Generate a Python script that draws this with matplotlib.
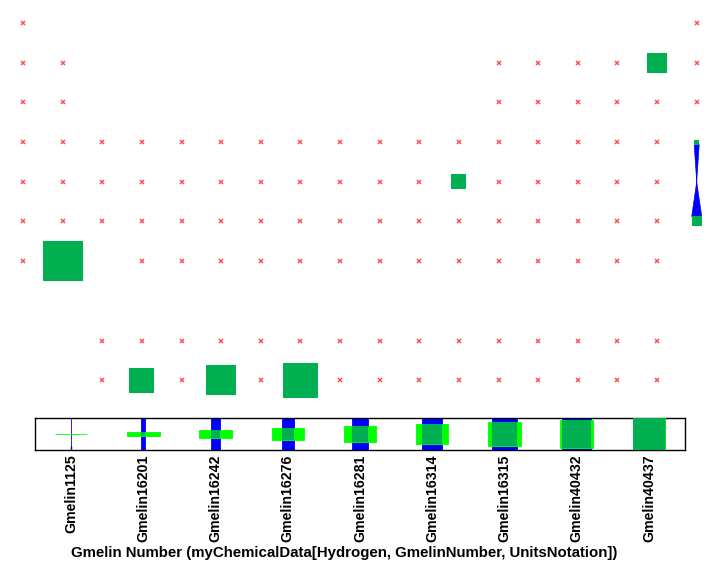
import numpy as np
import matplotlib
matplotlib.use("Agg")
import matplotlib.pyplot as plt
from matplotlib.patches import Rectangle, Polygon

plt.rcParams['font.family'] = ['Liberation Sans', 'DejaVu Sans']

# ---------------------------------------------------------------
# data
# ---------------------------------------------------------------
# upper grid: columns with a red cross, one list per row (row 7 is empty)
cross_rows = [
    [0, 17],
    [0, 1, 12, 13, 14, 15, 17],
    [0, 1, 12, 13, 14, 15, 16, 17],
    list(range(0, 17)),
    list(range(0, 11)) + list(range(12, 17)),
    list(range(0, 17)),
    [0] + list(range(3, 17)),
    [],
    list(range(2, 17)),
    [2, 4, 6] + list(range(8, 17)),
]
# green squares: column, row, value
sq_col = [17, 17, 11, 16, 3, 5, 7, 1]
sq_row = [3, 5, 4, 1, 9, 9, 9, 6]
sq_val = [1, 2, 3, 4, 5, 6, 7, 8]

# lower panel
gmelin = ["Gmelin1125", "Gmelin16201", "Gmelin16242", "Gmelin16276", "Gmelin16281",
          "Gmelin16314", "Gmelin16315", "Gmelin40432", "Gmelin40437"]
level = [0, 1, 2, 3, 4, 5, 6, 7, 8]

# ---------------------------------------------------------------
# figure
# ---------------------------------------------------------------
W, H = 720, 568
fig = plt.figure(figsize=(W / 100, H / 100), dpi=100)

red = '#ff4d5a'
dgreen = '#00b050'
lime = '#00ff00'
blue = '#0000ff'

# upper grid, no frame
colw, rowh = 39.63, 39.7
top = fig.add_axes([0, 0, 1, 1])
x0 = -23 / colw
y0 = -23 / rowh
top.set_xlim(x0, x0 + W / colw)
top.set_ylim(y0 + H / rowh, y0)
top.axis('off')

for r, cols in enumerate(cross_rows):
    if cols:
        top.plot(cols, [r] * len(cols), 'x', color=red, ms=3.3, mew=1.1, zorder=2)

px = 5.0  # pixels per unit of value
sx = {}
for c, r, v in zip(sq_col, sq_row, sq_val):
    w = v * px / colw
    h = v * px / rowh
    sx[v] = (c, r, w, h)
    top.add_patch(Rectangle((c - w / 2, r - h / 2), w, h, facecolor=dgreen,
                            edgecolor='none', zorder=4))

# blue bow tie joining the two smallest squares
c1, r1, w1, h1 = sx[1]
c2, r2, w2, h2 = sx[2]
mid = ((c1 + c2) / 2, (r1 + r2) / 2)
bow = Polygon([(c1 - w1 / 2, r1 + h1 / 2), (c1 + w1 / 2, r1 + h1 / 2), mid,
               (c2 + w2 / 2, r2 - h2 / 2), (c2 - w2 / 2, r2 - h2 / 2), mid],
              closed=True, facecolor=blue, edgecolor=blue, lw=0.5, zorder=3)
top.add_patch(bow)

# lower panel
ax = fig.add_axes([35 / W, (H - 450) / H, 650 / W, 32 / H])
x = np.arange(len(gmelin))
v = np.array(level) / 8.0
full = 0.45
bw = v * full
ax.bar(x, 1.0, width=bw, bottom=0, color=blue, edgecolor=blue, lw=0.6, zorder=2)
ax.bar(x, v, width=full, bottom=0.5 - v / 2, color=lime, edgecolor=lime, lw=0.6, zorder=3)
ax.bar(x, v, width=bw, bottom=0.5 - v / 2, color=dgreen, edgecolor='none', lw=0, zorder=4)

ax.set_xlim(-0.5, len(gmelin) - 0.5)
ax.set_ylim(0, 1)
ax.set_yticks([])
ax.set_xticks(x)
ax.set_xticklabels(gmelin, rotation=90, fontsize=10.2, fontweight='bold')
ax.tick_params(axis='x', direction='in', length=3, width=1, pad=3)
for s in ax.spines.values():
    s.set_linewidth(1.0)
ax.set_xlabel('Gmelin Number (myChemicalData[Hydrogen, GmelinNumber, UnitsNotation])',
              fontsize=10.8, fontweight='bold', labelpad=3)
ax.xaxis.set_label_coords(0.475, -3.0)

fig.savefig('out.png', dpi=100)
